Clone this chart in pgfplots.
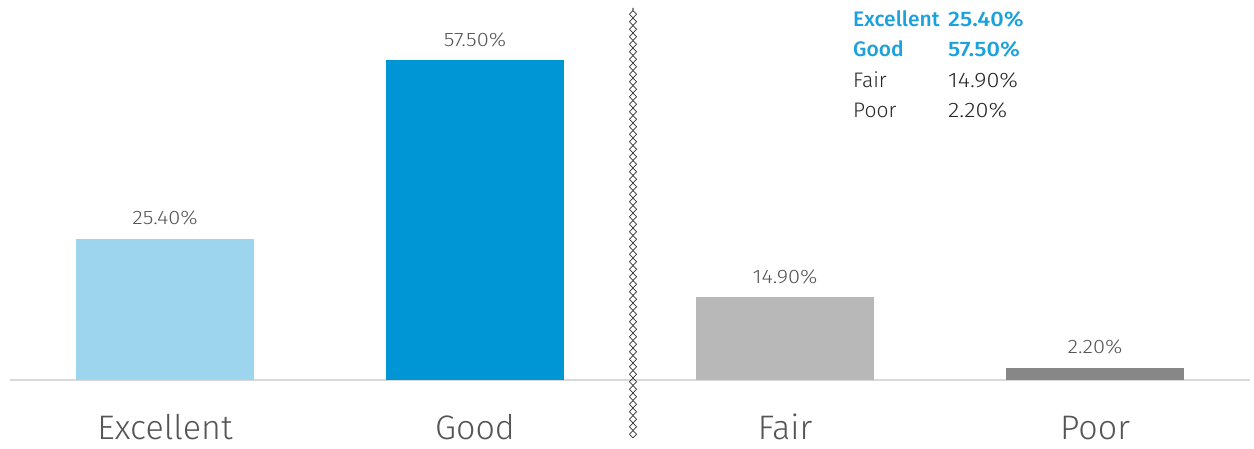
\documentclass[border=0pt]{standalone}
\usepackage{pgfplots}
\pgfplotsset{compat=1.18}
\usepackage{fontspec}
\setmainfont{Fira Sans Light}[BoldFont=Fira Sans Medium]
\usetikzlibrary{decorations.pathmorphing}
\definecolor{cExc}{HTML}{9DD4EE}
\definecolor{cGood}{HTML}{0096D6}
\definecolor{cFair}{HTML}{B8B8B9}
\definecolor{cPoor}{HTML}{878787}
\definecolor{legblue}{HTML}{1BA1DC}
\definecolor{txt}{HTML}{555555}
\definecolor{axisgray}{HTML}{D9D9D9}
\newcommand{\wide}[1]{\scalebox{1.12}[1]{#1}}
\begin{document}
\begin{tikzpicture}
\useasboundingbox (0,0) rectangle (1254pt,448pt);
\begin{axis}[
  at={(10pt,68pt)}, anchor=south west,
  scale only axis, width=1240pt, height=320pt,
  xmin=-0.5, xmax=3.5, ymin=0, ymax=57.5,
  clip=false,
  axis y line=none,
  axis x line*=bottom,
  x axis line style={draw=axisgray, line width=1.5pt, -},
  xtick={0,1,2,3},
  xticklabels={Excellent,Good,Fair,Poor},
  major tick length=0pt,
  xticklabel style={font=\fontsize{34}{40}\selectfont, text=txt, anchor=base, yshift=-59pt},
  ybar, bar width=178pt, bar shift=0pt,
  point meta=explicit symbolic,
  nodes near coords,
  every node near coord/.append style={font=\fontsize{19.5}{22}\selectfont, text=txt, anchor=base, yshift=14pt},
]
\addplot[fill=cExc, draw=none] coordinates {(0,25.4) [\wide{25.40\%}]};
\addplot[fill=cGood, draw=none] coordinates {(1,57.5) [\wide{57.50\%}]};
\addplot[fill=cFair, draw=none] coordinates {(2,14.9) [\wide{14.90\%}]};
\addplot[fill=cPoor, draw=none] coordinates {(3,2.2) [\wide{2.20\%}]};
\end{axis}
\draw[color=black!80, line width=0.7pt, decorate, decoration={zigzag,segment length=15pt,amplitude=3.5pt}] (633pt,10pt) -- (633pt,440pt);
\draw[color=black!80, line width=0.7pt, decorate, decoration={zigzag,segment length=15pt,amplitude=3.5pt,mirror}] (633pt,10pt) -- (633pt,440pt);
\begin{scope}[every node/.style={anchor=base west, inner sep=0pt, font=\fontsize{21}{24}\selectfont}]
\node[text=legblue, font=\fontsize{21}{24}\selectfont\bfseries] at (853pt,421pt) {Excellent};
\node[text=legblue, font=\fontsize{21}{24}\selectfont\bfseries] at (948pt,421pt) {\wide{25.40\%}};
\node[text=legblue, font=\fontsize{21}{24}\selectfont\bfseries] at (853pt,391pt) {Good};
\node[text=legblue, font=\fontsize{21}{24}\selectfont\bfseries] at (948pt,391pt) {\wide{57.50\%}};
\node[text=black!85] at (853pt,360pt) {Fair};
\node[text=black!85] at (948pt,360pt) {\wide{14.90\%}};
\node[text=black!85] at (853pt,330pt) {Poor};
\node[text=black!85] at (948pt,330pt) {\wide{2.20\%}};
\end{scope}
\end{tikzpicture}
\end{document}
